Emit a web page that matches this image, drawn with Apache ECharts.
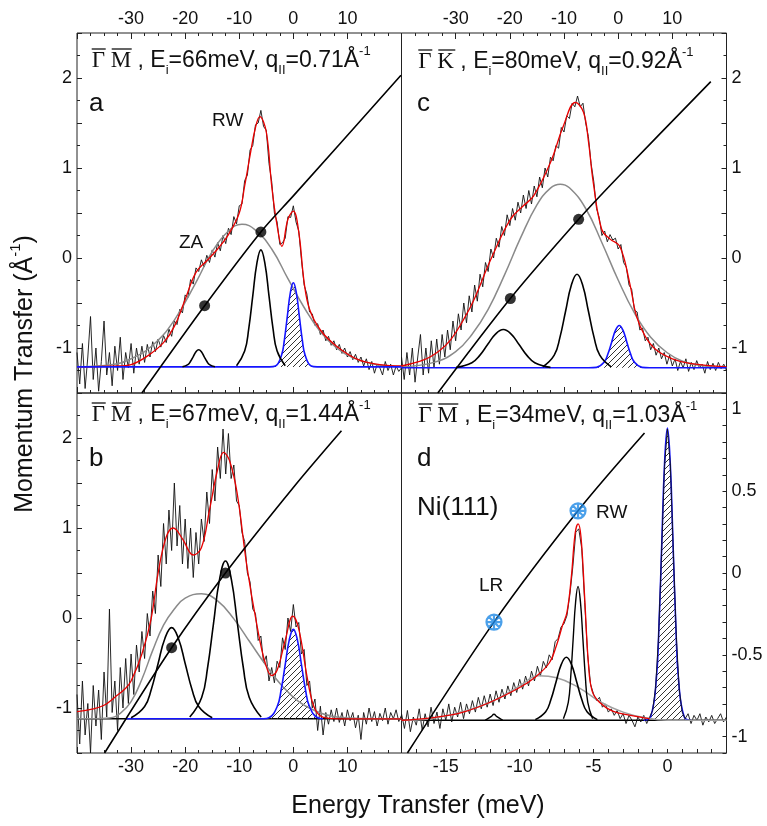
<!DOCTYPE html>
<html>
<head>
<meta charset="utf-8">
<title>HAS spectra Ni(111)</title>
<script src="https://cdn.jsdelivr.net/npm/echarts@6/dist/echarts.min.js"></script>
<style>
  html, body { margin: 0; padding: 0; background: #fff; }
  #main { width: 767px; height: 826px; }
</style>
</head>
<body>
<div id="main"></div>
<script>
// ---------- panel a : Gamma-M, Ei = 66 meV ----------
const aStart = -40, aStep = 0.5
const aCounts = [
  -1.05, -1.40, -0.95, -1.45, -1.10, -0.65, -1.35, -1.00, -1.48, -1.15,
  -0.70, -1.30, -1.05, -1.42, -0.98, -1.25, -0.88, -1.35, -1.05, -1.22,
  -0.95, -1.28, -1.00, -1.18, -0.98, -1.16, -0.96, -1.10, -0.93, -1.04,
  -0.90, -0.99, -0.86, -0.94, -0.79, -0.87, -0.70, -0.74, -0.57, -0.61,
  -0.41, -0.44, -0.24, -0.29, -0.11, -0.15, -0.02, -0.10, 0.03, -0.05,
  0.09, 0.01, 0.17, 0.08, 0.25, 0.16, 0.33, 0.26, 0.46, 0.38,
  0.58, 0.60, 0.86, 0.92, 1.20, 1.25, 1.48, 1.50, 1.64, 1.46,
  1.42, 1.05, 0.85, 0.50, 0.40, 0.15, 0.17, 0.22, 0.46, 0.45,
  0.58, 0.40, 0.30, -0.02, -0.30, -0.40, -0.60, -0.62, -0.75, -0.73,
  -0.85, -0.80, -0.92, -0.87, -0.97, -0.92, -1.02, -0.96, -1.06, -1.00,
  -1.10, -1.04, -1.13, -1.07, -1.16, -1.10, -1.20, -1.12, -1.24, -1.15,
  -1.28, -1.18, -1.22, -1.30, -1.15, -1.25, -1.18, -1.30, -1.20, -1.26,
  -1.22
]
const aFit = [[-40,-1.21],[-32,-1.2],[-30,-1.185],[-27,-1.09],[-24,-0.94],[-22,-0.76],[-20,-0.46],[-18,-0.16],[-16,-0.03],[-14,0.10],[-12,0.26],[-10,0.50],[-9,0.80],[-8,1.14],[-7,1.45],[-6.2,1.57],[-5,1.40],[-4,0.80],[-3,0.36],[-2.1,0.13],[-1,0.43],[0,0.52],[1,0.29],[2,-0.27],[3,-0.57],[5,-0.80],[8,-0.98],[12,-1.13],[16,-1.185],[20,-1.2]]
const aBroad = [[-40,-1.21],[-34,-1.19],[-30,-1.12],[-26,-0.97],[-22,-0.69],[-18,-0.27],[-15,0.07],[-12,0.30],[-9.5,0.375],[-7,0.31],[-4,0.10],[-1,-0.23],[2,-0.55],[5,-0.82],[8,-1.0],[11,-1.11],[15,-1.18],[20,-1.205]]
const aZA = [[-20.5,-1.208],[-19.5,-1.184],[-19,-1.148],[-18.5,-1.095],[-18,-1.042],[-17.5,-1.02],[-17,-1.042],[-16.5,-1.095],[-16,-1.148],[-15.5,-1.184],[-14.5,-1.208]]
const aRW = [[-10.5,-1.196],[-9,-1.034],[-8.25,-0.788],[-7.5,-0.421],[-6.75,-0.063],[-6,0.09],[-5.25,-0.063],[-4.5,-0.421],[-3.75,-0.788],[-3,-1.034],[-1.5,-1.196]]
const aElastic = [[-40,-1.21],[-4.4,-1.21],[-3.3,-1.20],[-2.2,-1.084],[-1.65,-0.906],[-1.1,-0.642],[-0.55,-0.385],[0,-0.275],[0.55,-0.385],[1.1,-0.642],[1.65,-0.906],[2.2,-1.084],[3.3,-1.20],[4.4,-1.21],[20,-1.21]]
const aScan = [[-28,-1.5],[-16.4,-0.53],[-6,0.29],[0,0.69],[19.9,2.03]]
const aDots = [[-16.4,-0.53],[-6,0.29]]
const aBase = -1.21

// ---------- panel b : Gamma-M, Ei = 67 meV ----------
const bStart = -40, bStep = 0.5
const bCounts = [
  -0.85, -1.40, -0.70, -1.30, -0.95, -1.50, -0.75, -1.20, -0.80, -1.35,
  -0.60, -1.10, 0.10, -1.05, -0.70, -1.25, -0.55, -1.00, -0.45, -0.95,
  -0.40, -0.85, -0.30, -0.60, -0.15, -0.45, 0.05, -0.20, 0.30, 0.05,
  0.70, 0.35, 1.05, 0.60, 1.20, 0.75, 1.50, 0.80, 1.25, 0.60,
  1.10, 0.55, 1.00, 0.45, 0.95, 0.60, 1.10, 0.85, 1.40, 1.05,
  1.65, 1.30, 1.90, 1.55, 2.10, 1.60, 2.05, 1.55, 1.70, 1.30,
  1.25, 0.95, 0.85, 0.50, 0.40, 0.10, 0.05, -0.25, -0.20, -0.50,
  -0.42, -0.70, -0.55, -0.72, -0.48, -0.55, -0.22, -0.35, 0.00, -0.15,
  0.15, -0.10, -0.05, -0.40, -0.35, -0.75, -0.70, -1.00, -0.90, -1.25,
  -0.98, -1.30, -1.05, -1.18, -1.02, -1.15, -1.00, -1.16, -1.05, -1.20,
  -1.02, -1.14, -1.05, -1.22, -1.08, -1.35, -1.05, -1.18, -1.00, -1.15,
  -1.04, -1.20, -1.06, -1.14, -1.00, -1.18, -1.05, -1.12, -1.02, -1.15,
  -1.08
]
const bFit = [[-40,-1.04],[-37,-1.01],[-35,-0.97],[-33,-0.88],[-31,-0.78],[-30,-0.70],[-28,-0.40],[-26.3,-0.01],[-25,0.50],[-23.5,0.90],[-22.2,1.00],[-20.5,0.88],[-18.5,0.70],[-17,0.78],[-15.5,1.20],[-14,1.65],[-12.9,1.84],[-11.8,1.75],[-10.4,1.39],[-8.6,0.58],[-6.7,-0.09],[-5.2,-0.50],[-4,-0.64],[-3,-0.58],[-1.5,-0.25],[-0.1,0.02],[1,-0.12],[2.5,-0.64],[3.5,-0.93],[4.5,-1.06],[6,-1.11],[9,-1.12],[20,-1.12]]
const bBroad = [[-40,-1.12],[-34,-1.11],[-32,-1.06],[-30,-0.93],[-28,-0.68],[-26,-0.36],[-24,-0.08],[-22,0.10],[-20,0.22],[-17,0.27],[-14,0.19],[-11,-0.01],[-8,-0.27],[-5,-0.53],[-2,-0.76],[1,-0.93],[4,-1.03],[7,-1.09],[10,-1.11],[20,-1.12]]
const bLow = [[-30,-1.109],[-27.5,-0.983],[-26.25,-0.791],[-25,-0.505],[-23.75,-0.227],[-22.5,-0.107],[-21.25,-0.227],[-20,-0.505],[-18.75,-0.791],[-17.5,-0.983],[-15,-1.109]]
const bRW = [[-19.15,-1.101],[-16.95,-0.883],[-15.85,-0.550],[-14.75,-0.056],[-13.65,0.426],[-12.55,0.633],[-11.45,0.426],[-10.35,-0.056],[-9.25,-0.550],[-8.15,-0.883],[-5.95,-1.101]]
const bElastic = [[-31,-1.12],[-5.5,-1.12],[-4.5,-1.109],[-3,-0.986],[-2.25,-0.797],[-1.5,-0.517],[-0.75,-0.243],[0,-0.126],[0.75,-0.243],[1.5,-0.517],[2.25,-0.797],[3,-0.986],[4.5,-1.109],[5.5,-1.12]]
const bScan = [[-34.9,-1.5],[-22.5,-0.33],[-12.55,0.50],[0,1.45],[8.9,2.08]]
const bDots = [[-22.5,-0.33],[-12.55,0.50]]
const bBase = -1.12

// ---------- panel c : Gamma-K, Ei = 80 meV ----------
const cStart = -40, cStep = 0.5
const cCounts = [
  -1.10, -1.35, -1.05, -1.30, -1.00, -1.38, -1.10, -0.85, -1.30, -1.00,
  -1.28, -0.92, -1.22, -0.90, -1.18, -0.85, -1.10, -0.80, -1.02, -0.70,
  -0.92, -0.62, -0.80, -0.50, -0.72, -0.42, -0.60, -0.30, -0.48, -0.18,
  -0.32, -0.05, -0.15, 0.10, 0.00, 0.22, 0.12, 0.35, 0.25, 0.48,
  0.36, 0.55, 0.42, 0.62, 0.50, 0.70, 0.55, 0.75, 0.60, 0.80,
  0.68, 0.90, 0.78, 1.00, 0.90, 1.12, 1.08, 1.25, 1.22, 1.45,
  1.40, 1.58, 1.55, 1.72, 1.68, 1.80, 1.68, 1.72, 1.50, 1.35,
  1.05, 0.85, 0.55, 0.45, 0.25, 0.30, 0.18, 0.26, 0.20, 0.22,
  0.10, 0.15, -0.05, -0.10, -0.30, -0.35, -0.58, -0.60, -0.80, -0.78,
  -0.92, -0.88, -1.02, -0.95, -1.08, -1.00, -1.12, -1.05, -1.18, -1.08,
  -1.20, -1.12, -1.25, -1.15, -1.22, -1.12, -1.26, -1.16, -1.24, -1.14,
  -1.22, -1.18, -1.28, -1.15, -1.24, -1.17, -1.25, -1.16, -1.23, -1.18,
  -1.25
]
const cFit = [[-40,-1.2],[-35.8,-1.13],[-33,-1.03],[-30.9,-0.906],[-28.5,-0.68],[-26.6,-0.46],[-23.5,-0.015],[-19.9,0.43],[-17.5,0.58],[-15.6,0.69],[-12.5,1.06],[-10.1,1.47],[-7.9,1.73],[-6.4,1.62],[-5.5,1.30],[-4.6,0.84],[-3.05,0.32],[-1.5,0.21],[0.3,0.13],[2.1,-0.27],[3.4,-0.65],[5,-0.87],[7,-1.02],[10,-1.12],[13.2,-1.17],[20,-1.21]]
const cBroad = [[-40,-1.21],[-34,-1.16],[-30,-1.04],[-27,-0.85],[-24,-0.57],[-21,-0.19],[-18,0.226],[-15,0.59],[-12.5,0.777],[-10.7,0.82],[-9,0.78],[-6,0.55],[-3,0.17],[0,-0.245],[3,-0.61],[6,-0.88],[9,-1.05],[12,-1.15],[16,-1.20],[20,-1.22]]
const cLow = [[-29.9,-1.215],[-27,-1.163],[-25.55,-1.082],[-24.1,-0.962],[-22.65,-0.845],[-21.2,-0.795],[-19.75,-0.845],[-18.3,-0.962],[-16.85,-1.082],[-15.4,-1.163],[-12.5,-1.215]]
const cRW = [[-13.9,-1.209],[-11.8,-1.08],[-10.75,-0.882],[-9.7,-0.589],[-8.65,-0.303],[-7.6,-0.18],[-6.55,-0.303],[-5.5,-0.589],[-4.45,-0.882],[-3.4,-1.08],[-1.3,-1.209]]
const cElastic = [[-40,-1.22],[-5.4,-1.22],[-4,-1.215],[-2.6,-1.157],[-1.9,-1.067],[-1.2,-0.935],[-0.5,-0.805],[0.2,-0.75],[0.9,-0.805],[1.6,-0.935],[2.3,-1.067],[3,-1.157],[4.4,-1.215],[5.8,-1.22],[20,-1.22]]
const cScan = [[-33.3,-1.5],[-19.9,-0.45],[-7.3,0.43],[0,0.9],[17.1,1.96]]
const cDots = [[-19.9,-0.45],[-7.3,0.43]]
const cBase = -1.22

// ---------- panel d : Gamma-M, Ei = 34 meV ----------
const dStart = -18, dStep = 0.2
const dCounts = [
  -0.86, -0.95, -0.84, -0.97, -0.88, -0.93, -0.83, -0.96, -0.86, -0.94,
  -0.82, -0.92, -0.85, -0.95, -0.83, -0.90, -0.80, -0.91, -0.82, -0.88,
  -0.79, -0.89, -0.80, -0.86, -0.78, -0.85, -0.76, -0.83, -0.75, -0.82,
  -0.74, -0.81, -0.72, -0.79, -0.71, -0.77, -0.69, -0.75, -0.67, -0.73,
  -0.65, -0.71, -0.63, -0.69, -0.60, -0.66, -0.57, -0.63, -0.54, -0.58,
  -0.50, -0.53, -0.42, -0.40, -0.33, -0.31, -0.26, -0.13, 0.04, 0.25,
  0.27, 0.15, -0.18, -0.50, -0.68, -0.74, -0.78, -0.76, -0.82, -0.80,
  -0.85, -0.83, -0.87, -0.84, -0.89, -0.86, -0.92, -0.87, -0.90, -0.94,
  -0.88, -0.91, -0.87, -0.92, -0.88, -0.84, -0.70, -0.39, 0.12, 0.65,
  0.88, 0.66, 0.13, -0.38, -0.71, -0.85, -0.89, -0.86, -0.92, -0.87,
  -0.90, -0.86, -0.93, -0.88, -0.91, -0.87, -0.92, -0.89, -0.86, -0.91,
  -0.88
]
const dFit = [[-18,-0.9],[-16,-0.885],[-14,-0.855],[-12,-0.79],[-10,-0.70],[-9,-0.64],[-8,-0.55],[-7.5,-0.44],[-7.1,-0.32],[-6.8,-0.24],[-6.5,-0.02],[-6.25,0.24],[-6.05,0.30],[-5.85,0.22],[-5.6,-0.15],[-5.35,-0.55],[-5.1,-0.72],[-4.6,-0.79],[-3.75,-0.842],[-2.5,-0.87],[-1.2,-0.89]]
const dBroad = [[-18,-0.9],[-16,-0.89],[-14,-0.85],[-12,-0.79],[-10,-0.69],[-8.7,-0.628],[-7.5,-0.64],[-6,-0.70],[-4.5,-0.79],[-3,-0.85],[-1.5,-0.885],[0,-0.9],[4,-0.9]]
const dLR = [[-12.34,-0.9],[-11.94,-0.878],[-11.74,-0.863],[-11.54,-0.878],[-11.14,-0.9]]
const dSide = [[-8.94,-0.896],[-8.24,-0.848],[-7.89,-0.775],[-7.54,-0.666],[-7.19,-0.560],[-6.84,-0.515],[-6.49,-0.560],[-6.14,-0.666],[-5.79,-0.775],[-5.44,-0.848],[-4.74,-0.896]]
const dRW = [[-7.04,-0.891],[-6.71,-0.790],[-6.545,-0.634],[-6.38,-0.403],[-6.215,-0.179],[-6.05,-0.082],[-5.885,-0.179],[-5.72,-0.403],[-5.555,-0.634],[-5.39,-0.790],[-5.06,-0.891]]
const dElastic = [[-1.6,-0.9],[-1.14,-0.880],[-0.76,-0.659],[-0.57,-0.320],[-0.38,0.184],[-0.19,0.675],[0,0.886],[0.19,0.675],[0.38,0.184],[0.57,-0.320],[0.76,-0.659],[1.14,-0.880],[1.6,-0.9]]
const dScan = [[-17.6,-1.1],[-11.74,-0.30],[-6.05,0.38],[-1.55,0.855]]
const dMarks = [[-11.74,-0.30],[-6.05,0.38]]
const dBase = -0.9

// ---------- panel headings ----------
const headDir = ['M', 'M', 'K', 'M']
const headEi = ['66', '67', '80', '34']
const headQ = ['0.71', '1.44', '0.92', '1.03']

const FONT = '"Liberation Sans", Arial, sans-serif'
const SERIF = '"Liberation Serif", "Times New Roman", serif'

// hatch pattern for the elastic peaks
const hatch = document.createElement('canvas')
hatch.width = 6
hatch.height = 6
const hctx = hatch.getContext('2d')
hctx.strokeStyle = '#333'
hctx.lineWidth = 1
hctx.beginPath()
hctx.moveTo(0, 6); hctx.lineTo(6, 0)
hctx.moveTo(-1, 1); hctx.lineTo(1, -1)
hctx.moveTo(5, 7); hctx.lineTo(7, 5)
hctx.stroke()

function sampled(start, step, values) {
  return values.map((v, i) => [+(start + i * step).toFixed(2), v])
}

function curve(xi, yi, data, color, width, z, smooth) {
  return {
    type: 'line', xAxisIndex: xi, yAxisIndex: yi, data: data,
    symbol: 'none', showSymbol: false, silent: true,
    smooth: smooth || false,
    lineStyle: { color: color, width: width }, z: z
  }
}

function elastic(xi, yi, data, base, z) {
  const s = curve(xi, yi, data, '#1414ff', 1.6, z, 0.45)
  s.areaStyle = { color: { image: hatch, repeat: 'repeat' }, origin: base, opacity: 1 }
  return s
}

function dots(xi, yi, data) {
  return {
    type: 'scatter', xAxisIndex: xi, yAxisIndex: yi, data: data, silent: true,
    symbol: 'circle', symbolSize: 11, itemStyle: { color: '#000' }, z: 6
  }
}

const tickStyle = { color: '#222' }

function energyAxis(gridIndex, position, showLabels) {
  return {
    type: 'value', gridIndex: gridIndex, position: position,
    min: -40, max: 20, interval: 10,
    axisLine: { show: false, onZero: false },
    axisTick: { show: true, inside: true, length: 6, lineStyle: tickStyle },
    minorTick: { show: true, splitNumber: 4, length: 3, lineStyle: tickStyle },
    splitLine: { show: false },
    axisLabel: {
      show: showLabels, fontSize: 18, color: '#111', fontFamily: FONT, margin: 5,
      formatter: v => (v === -40 || v === 20) ? '' : String(v)
    }
  }
}

function momentumAxis(gridIndex, position) {
  return {
    type: 'value', gridIndex: gridIndex, position: position,
    min: -1.5, max: 2.5, interval: 0.5,
    axisLine: { show: false, onZero: false },
    axisTick: { show: true, inside: true, length: 5, lineStyle: tickStyle },
    minorTick: { show: true, splitNumber: 2, length: 3, lineStyle: tickStyle },
    splitLine: { show: false },
    axisLabel: {
      fontSize: 18, color: '#111', fontFamily: FONT, margin: 5,
      formatter: v => Number.isInteger(v) ? String(v) : ''
    }
  }
}

const gridBox = { show: true, borderColor: '#222', borderWidth: 1, backgroundColor: 'transparent', containLabel: false, outerBoundsMode: 'none' }

const xAxes = [
  energyAxis(0, 'top', true),
  energyAxis(0, 'bottom', false),
  energyAxis(1, 'bottom', true),
  energyAxis(2, 'top', true),
  energyAxis(2, 'bottom', false),
  {
    type: 'value', gridIndex: 3, position: 'bottom', min: -18, max: 4, interval: 1,
    axisLine: { show: false, onZero: false },
    axisTick: { show: true, inside: true, length: 4, lineStyle: tickStyle },
    splitLine: { show: false },
    axisLabel: { fontSize: 18, color: '#111', fontFamily: FONT, margin: 5,
      formatter: v => (v % 5 === 0) ? String(v) : '' }
  }
]

const yAxes = [
  momentumAxis(0, 'left'),
  momentumAxis(1, 'left'),
  momentumAxis(2, 'right'),
  {
    type: 'value', gridIndex: 3, position: 'right', min: -1.1, max: 1.1, interval: 0.1,
    axisLine: { show: false, onZero: false },
    axisTick: { show: true, inside: true, length: 4, lineStyle: tickStyle },
    splitLine: { show: false },
    axisLabel: { fontSize: 18, color: '#111', fontFamily: FONT, margin: 5,
      formatter: v => Math.abs(v * 2 - Math.round(v * 2)) < 1e-6 ? String(Math.round(v * 2) / 2) : '' }
  }
]

const RED = '#e80000', GRAY = '#8a8a8a', INK = '#111'

const series = [
  // a
  curve(0, 0, sampled(aStart, aStep, aCounts), INK, 0.9, 2),
  curve(0, 0, aBroad, GRAY, 1.5, 3, 0.45),
  curve(0, 0, aFit, RED, 1.3, 3, 0.4),
  elastic(0, 0, aElastic, aBase, 3),
  curve(0, 0, aZA, '#000', 1.6, 4, 0.45),
  curve(0, 0, aRW, '#000', 1.6, 4, 0.45),
  curve(0, 0, aScan, '#000', 1.6, 4, 0.3),
  dots(0, 0, aDots),
  // b
  curve(2, 1, [[-40, bBase], [20, bBase]], '#000', 1.4, 2),
  curve(2, 1, sampled(bStart, bStep, bCounts), INK, 0.9, 2),
  curve(2, 1, bBroad, GRAY, 1.5, 3, 0.45),
  curve(2, 1, bFit, RED, 1.3, 3, 0.4),
  elastic(2, 1, bElastic, bBase, 3),
  curve(2, 1, bLow, '#000', 1.6, 4, 0.45),
  curve(2, 1, bRW, '#000', 1.6, 4, 0.45),
  curve(2, 1, bScan, '#000', 1.6, 4, 0.3),
  dots(2, 1, bDots),
  // c
  curve(3, 2, sampled(cStart, cStep, cCounts), INK, 0.9, 2),
  curve(3, 2, cBroad, GRAY, 1.5, 3, 0.45),
  curve(3, 2, cFit, RED, 1.3, 3, 0.4),
  elastic(3, 2, cElastic, cBase, 3),
  curve(3, 2, cLow, '#000', 1.6, 4, 0.45),
  curve(3, 2, cRW, '#000', 1.6, 4, 0.45),
  curve(3, 2, cScan, '#000', 1.6, 4, 0.3),
  dots(3, 2, cDots),
  // d
  curve(5, 3, [[-18, dBase], [4, dBase]], '#000', 1.4, 2),
  elastic(5, 3, dElastic, dBase, 2),
  curve(5, 3, sampled(dStart, dStep, dCounts), INK, 0.9, 2),
  curve(5, 3, dBroad, '#a0a0a0', 1.5, 3, 0.45),
  curve(5, 3, dFit, RED, 1.3, 3, 0.4),
  curve(5, 3, dLR, '#000', 1.4, 4, 0.45),
  curve(5, 3, dSide, '#000', 1.6, 4, 0.45),
  curve(5, 3, dRW, '#000', 1.4, 4, 0.45),
  curve(5, 3, dScan, '#000', 1.6, 4, 0.3),
  {
    type: 'scatter', xAxisIndex: 5, yAxisIndex: 3, data: dMarks, silent: true, z: 6,
    symbol: 'path://M0,-10A10,10,0,1,1,0,10A10,10,0,1,1,0,-10ZM0,-10L0,10M-10,0L10,0M-7,-7L7,7M-7,7L7,-7',
    symbolSize: 15, symbolKeepAspect: true,
    itemStyle: { color: 'rgba(0,0,0,0)', borderColor: '#1e88e5', borderWidth: 2.2 }
  }
]

const headRich = {
  g: { fontFamily: SERIF, fontSize: 23, lineHeight: 32, fill: '#111' },
  t: { fontFamily: FONT, fontSize: 23, lineHeight: 32, fill: '#111' },
  s: { fontFamily: FONT, fontSize: 13, lineHeight: 13, verticalAlign: 'bottom', fill: '#111' },
  p: { fontFamily: FONT, fontSize: 13, lineHeight: 13, verticalAlign: 'top', fill: '#111' }
}

function heading(x0, y, i) {
  const barW = headDir[i] === 'K' ? 17 : 20
  return [
    { type: 'text', x: x0, y: y, z: 100,
      style: { text: '{g|\u0393 }{g|' + headDir[i] + '}{t| , E}{s|i}{t|=' + headEi[i] + 'meV, q}{s|II}{t|=' + headQ[i] + '\u00c5}{p|-1}',
        rich: headRich, verticalAlign: 'middle', align: 'left' } },
    { type: 'line', z: 100, shape: { x1: x0, y1: y - 12, x2: x0 + 14, y2: y - 12 }, style: { stroke: '#111', lineWidth: 1.3 } },
    { type: 'line', z: 100, shape: { x1: x0 + 20, y1: y - 12, x2: x0 + 20 + barW, y2: y - 12 }, style: { stroke: '#111', lineWidth: 1.3 } }
  ]
}

function label(x, y, text, size) {
  return { type: 'text', x: x, y: y, z: 100,
    style: { text: text, fontSize: size, fontFamily: FONT, fill: '#111', verticalAlign: 'middle', align: 'left' } }
}

const graphic = [].concat(
  heading(91.7, 61, 0),
  heading(91.7, 415, 1),
  heading(418.3, 62, 2),
  heading(418.3, 416, 3),
  [
    label(89, 104, 'a', 26),
    label(89, 459, 'b', 26),
    label(417, 104, 'c', 26),
    label(417, 459, 'd', 26),
    label(212, 121, 'RW', 19),
    label(179, 243, 'ZA', 19),
    label(479, 586, 'LR', 19),
    label(596, 513, 'RW', 19),
    label(417, 508, 'Ni(111)', 26),
    { type: 'text', x: 25, y: 374, rotation: Math.PI / 2, z: 100,
      style: { text: '{t|Momentum Transfer (\u00c5}{p|-1}{t|)}', align: 'center', verticalAlign: 'middle',
        rich: { t: { fontFamily: FONT, fontSize: 25, lineHeight: 34, fill: '#111' },
                p: { fontFamily: FONT, fontSize: 15, lineHeight: 15, verticalAlign: 'top', fill: '#111' } } } },
    { type: 'text', x: 418, y: 806, z: 100,
      style: { text: 'Energy Transfer (meV)', fontFamily: FONT, fontSize: 25, fill: '#111', align: 'center', verticalAlign: 'middle' } }
  ]
)

const chart = echarts.init(document.getElementById('main'), null, { renderer: 'canvas' })
chart.setOption({
  backgroundColor: '#fff',
  animation: false,
  grid: [
    Object.assign({ left: 77, top: 33, width: 324.5, height: 360 }, gridBox),
    Object.assign({ left: 77, top: 393, width: 324.5, height: 360 }, gridBox),
    Object.assign({ left: 401.5, top: 33, width: 325, height: 360 }, gridBox),
    Object.assign({ left: 401.5, top: 393, width: 325, height: 360 }, gridBox)
  ],
  xAxis: xAxes,
  yAxis: yAxes,
  series: series,
  graphic: graphic
})
</script>
</body>
</html>
